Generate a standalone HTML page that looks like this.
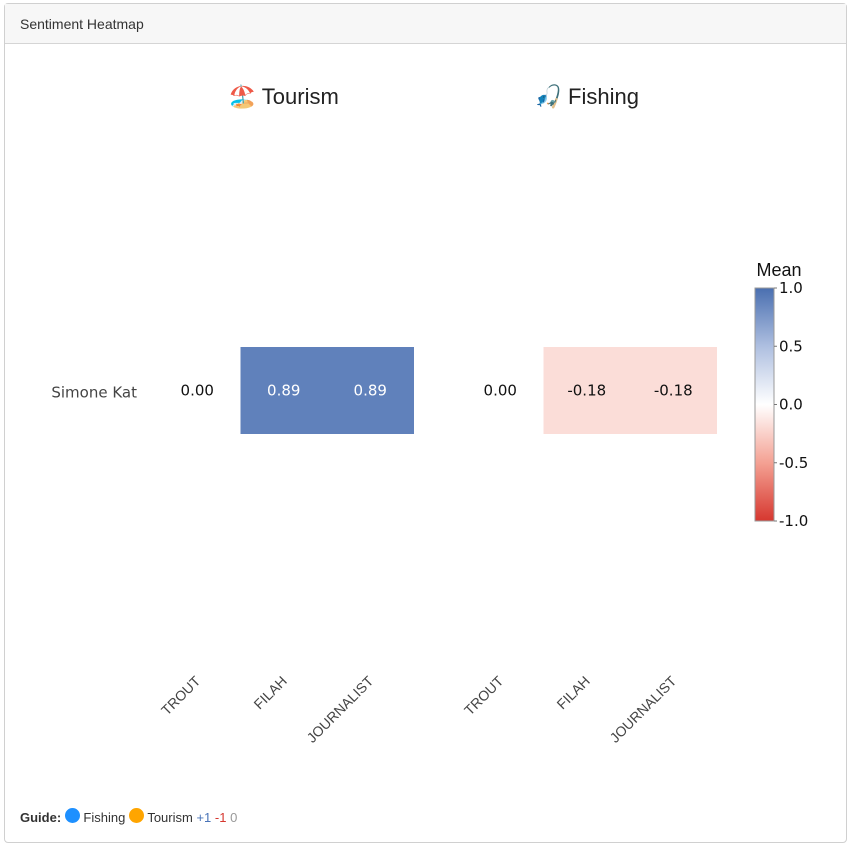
<!DOCTYPE html>
<html><head><meta charset="utf-8"><style>
body{margin:0;width:854px;height:851px;background:#fff;font-family:"Liberation Sans",sans-serif;position:relative;overflow:hidden}
.card{position:absolute;left:4px;top:3px;width:841px;height:838px;border:1px solid #d0d0d0;border-radius:4px}
.hdr{height:39px;background:#f7f7f7;border-bottom:1px solid #d5d5d5;font-size:14px;color:#333;line-height:40px;padding-left:15px}
.guide{position:absolute;left:20px;top:808px;font-size:13px;color:#333}
.dot{display:inline-block;width:15px;height:15px;border-radius:50%;vertical-align:-1px}
</style></head><body>
<div class="card">
<div class="hdr">Sentiment Heatmap</div>
</div>
<svg id="chart" width="854" height="851" style="position:absolute;left:0;top:0">
<defs><linearGradient id="cg" x1="0" y1="1" x2="0" y2="0">
<stop offset="0" stop-color="#d6372f"/><stop offset="0.25" stop-color="#f4a193"/><stop offset="0.5" stop-color="#ffffff"/><stop offset="0.75" stop-color="#aebfe0"/><stop offset="1" stop-color="#4a6fb0"/></linearGradient></defs>
</svg>
<div class="guide"><b>Guide:</b> <span class="dot" style="background:#1e90ff"></span> Fishing <span class="dot" style="background:#ffa500"></span> Tourism <span style="color:#4a74b8">+1</span> <span style="color:#d6372f">-1</span> <span style="color:#999">0</span></div>
<script>
const panels=["Tourism","Fishing"];
const panelIcons=["🏖️","🎣"];
const categories=["TROUT","FILAH","JOURNALIST"];
const rows=["Simone Kat"];
const tourismValues=[0.00,0.89,0.89];
const fishingValues=[0.00,-0.18,-0.18];
const colorTicks=[1.0,0.5,0.0,-0.5,-1.0];
const allValues=[tourismValues,fishingValues];
const svg=document.getElementById('chart');
const NS='http://www.w3.org/2000/svg';
function mk(t,a){const e=document.createElementNS(NS,t);for(const k in a)e.setAttribute(k,a[k]);svg.appendChild(e);return e;}
const panelX0=[154,457],cw=86.5,rowY0=347,rh=87;
function xScale(p,i){return panelX0[p]+i*cw;}
function lerp(a,b,t){return a.map((v,i)=>Math.round(v+(b[i]-v)*t));}
const stops=[[-1,[214,55,47]],[-0.5,[244,161,147]],[0,[255,255,255]],[0.5,[174,191,224]],[1,[74,111,176]]];
function color(v){for(let i=0;i<stops.length-1;i++){const[a,ca]=stops[i],[b,cb]=stops[i+1];if(v>=a&&v<=b)return `rgb(${lerp(ca,cb,(v-a)/(b-a))})`;}return '#fff';}
const cbTop=288,cbBot=521;
function cbY(v){return cbTop+(1-v)/2*(cbBot-cbTop);}
panels.forEach((p,pi)=>{
  const t=mk('text',{x:xScale(pi,0)+cw*1.5,y:104,'font-size':22,'text-anchor':'middle',fill:'#222','font-family':'Liberation Sans, DejaVu Sans, sans-serif'});
  t.textContent=panelIcons[pi]+'  '+p;
  
  
  rows.forEach((r,ri)=>{
    allValues[pi].forEach((v,ci)=>{
      const x=xScale(pi,ci),y=rowY0+ri*rh;
      const rc=mk('rect',{x:x,y:y,width:cw+0.5,height:rh,fill:color(v)});
      
      
      const tx=mk('text',{x:x+cw/2,y:y+rh/2+5,'font-size':15,'text-anchor':'middle',fill:Math.abs(v)>0.5?'#fff':'#111','font-family':'DejaVu Sans, sans-serif'});
      tx.textContent=v.toFixed(2);
      
      
    });
  });
  categories.forEach((c,ci)=>{
    const x=xScale(pi,ci)+cw/2+4,y=682;
    const t=mk('text',{x:x,y:y,'font-size':14,'text-anchor':'end',fill:'#444',transform:`rotate(-45 ${x} ${y})`});
    t.textContent=c;
    
    
  });
});
rows.forEach((r,ri)=>{
  const t=mk('text',{x:137,y:rowY0+ri*rh+rh/2+7,'font-size':15,'text-anchor':'end',fill:'#444','font-family':'DejaVu Sans, sans-serif'});
  t.textContent=r;
  
  
});
const cb=mk('rect',{x:755,y:cbTop,width:19,height:cbBot-cbTop,fill:'url(#cg)',stroke:'#999','stroke-width':1});


const ct=mk('text',{x:779,y:276,'font-size':18,'text-anchor':'middle',fill:'#111'});
ct.textContent='Mean';


colorTicks.forEach(v=>{
  const y=cbY(v);
  mk('line',{x1:774,x2:777,y1:y,y2:y,stroke:'#777'});
  const t=mk('text',{x:779,y:y+5,'font-size':15,fill:'#111','font-family':'DejaVu Sans, sans-serif'});
  t.textContent=v.toFixed(1);
  
  
});
</script>
</body></html>
